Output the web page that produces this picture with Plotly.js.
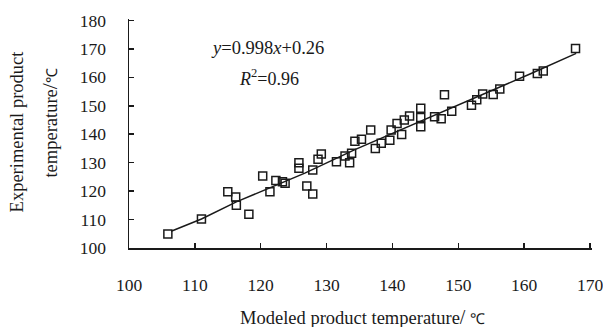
<!DOCTYPE html>
<html>
<head>
<meta charset="utf-8">
<script src="https://cdn.plot.ly/plotly-3.0.1.min.js"></script>
<style>html,body{margin:0;padding:0;background:#fff;}#chart{width:603px;height:327px;}</style>
</head>
<body>
<div id="chart"></div>
<script>
// Modeled (x) vs experimental (y) product temperature
const modeled = [105.9, 111.0, 115.0, 116.2, 116.3, 118.2, 120.3, 121.4, 122.3, 123.3, 123.7, 125.8, 125.8, 127.0, 127.9, 127.9, 128.7, 129.2, 131.5, 132.8, 133.5, 133.8, 134.3, 135.3, 136.7, 137.4, 138.3, 139.6, 139.8, 140.7, 141.4, 141.8, 142.6, 144.3, 144.3, 144.3, 146.4, 147.4, 147.9, 149.0, 152.0, 152.8, 153.7, 155.3, 156.3, 159.3, 162.0, 162.9, 167.8];
const experimental = [104.9, 110.2, 119.8, 117.9, 115.0, 111.9, 125.3, 119.8, 123.7, 123.3, 122.8, 130.0, 128.0, 121.8, 119.0, 127.4, 131.2, 133.0, 130.3, 132.3, 130.0, 133.3, 137.5, 138.2, 141.5, 135.0, 136.8, 137.9, 141.5, 143.8, 139.9, 145.0, 146.4, 149.1, 145.9, 142.6, 146.1, 145.4, 153.9, 148.1, 150.2, 152.1, 154.1, 154.0, 155.9, 160.4, 161.3, 162.2, 170.1];
// Fitted line vertices
const fitX = [106.4, 111.0, 116.3, 120.6, 126.7, 134.3, 140.0, 147.2, 153.0, 160.8, 167.9];
const fitY = [105.9, 110.2, 116.2, 120.4, 126.3, 134.6, 140.3, 147.3, 153.2, 161.1, 168.4];
const xTicks = [100, 110, 120, 130, 140, 150, 160, 170];
const yTicks = [100, 110, 120, 130, 140, 150, 160, 170, 180];
const eqText = '<i>y</i>=0.998<i>x</i>+0.26';
const r2Text = '<i>R</i><sup>2</sup>=0.96';
const xTitle = 'Modeled product temperature<span style="font-size:20px">/</span> <span style="font-size:15px">℃</span>';
const yTitle1 = 'Experimental product';
const yTitle2 = 'temperature<span style="font-size:22px">/</span><span style="font-size:15px">℃</span>';

const FONT = 'Liberation Serif, Times New Roman, serif';
const INK = '#1a1a1a';

const traces = [
  {x: fitX, y: fitY, type: 'scatter', mode: 'lines', line: {color: INK, width: 1.5}, hoverinfo: 'skip'},
  {x: modeled, y: experimental, type: 'scatter', mode: 'markers',
   marker: {symbol: 'square-open', size: 8, color: INK, line: {width: 1.5, color: INK}}}
];

const axisCommon = {
  showgrid: false, zeroline: false, showline: true, linecolor: INK, linewidth: 1.5,
  ticks: 'inside', ticklen: 5, tickwidth: 1.5, tickcolor: INK,
  tickfont: {family: FONT, size: 17.5, color: INK}, mirror: false,
  ticklabeloverflow: 'allow'
};

const layout = {
  width: 603, height: 327,
  margin: {l: 129, r: 11, t: 19, b: 79},
  paper_bgcolor: '#fff', plot_bgcolor: '#fff',
  showlegend: false,
  font: {family: FONT, color: INK},
  xaxis: Object.assign({}, axisCommon, {range: [100, 170.3], tickvals: xTicks, ticktext: xTicks.map(String), ticklabelstandoff: 20}),
  yaxis: Object.assign({}, axisCommon, {range: [100, 180.5], tickvals: yTicks, ticktext: yTicks.map(String), ticklabelstandoff: 18}),
  annotations: [
    {text: eqText, xref: 'x', yref: 'y', x: 121.1, y: 170.2, showarrow: false, xanchor: 'center', yanchor: 'middle', font: {family: FONT, size: 18.5, color: INK}},
    {text: r2Text, xref: 'x', yref: 'y', x: 121.2, y: 159.8, showarrow: false, xanchor: 'center', yanchor: 'middle', font: {family: FONT, size: 18, color: INK}},
    {text: xTitle, xref: 'paper', yref: 'paper', x: 0.505, y: -0.30, showarrow: false, xanchor: 'center', yanchor: 'middle', font: {family: FONT, size: 18.5, color: INK}},
    {text: yTitle1, xref: 'paper', yref: 'paper', x: -0.241, y: 0.511, showarrow: false, textangle: -90, xanchor: 'center', yanchor: 'middle', font: {family: FONT, size: 18.5, color: INK}},
    {text: yTitle2, xref: 'paper', yref: 'paper', x: -0.172, y: 0.545, showarrow: false, textangle: -90, xanchor: 'center', yanchor: 'middle', font: {family: FONT, size: 18.5, color: INK}}
  ]
};

Plotly.newPlot('chart', traces, layout, {staticPlot: true, displayModeBar: false});
</script>
</body>
</html>
